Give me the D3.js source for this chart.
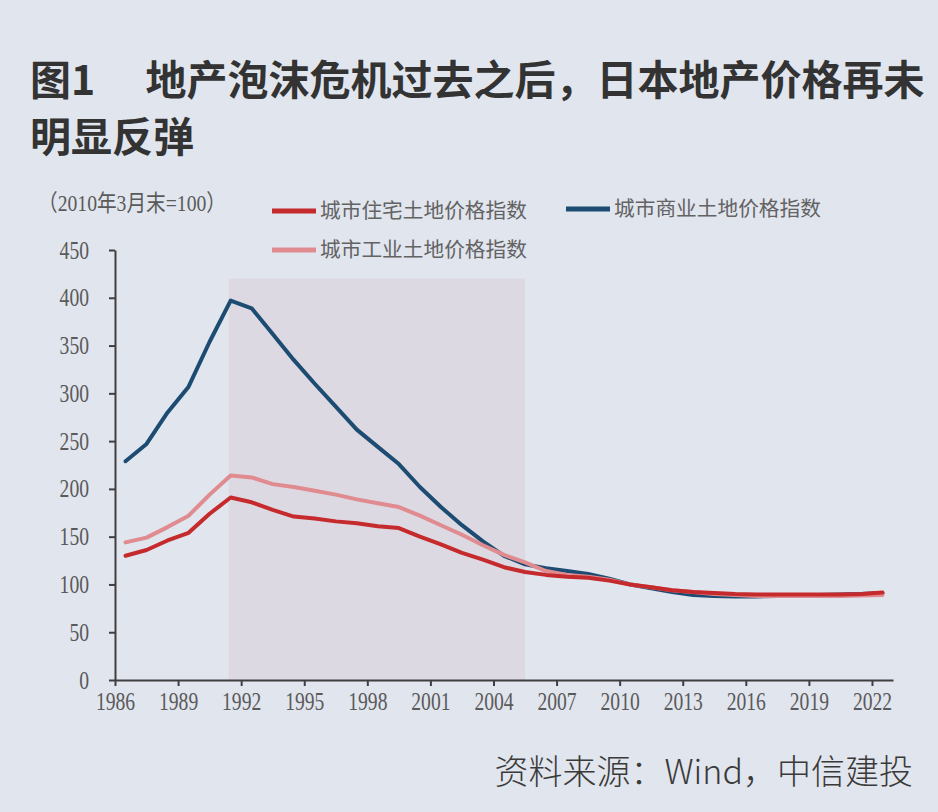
<!DOCTYPE html>
<html>
<head>
<meta charset="utf-8">
<script src="https://cdn.jsdelivr.net/npm/d3@7/dist/d3.min.js"></script>
<style>
  html, body { margin: 0; padding: 0; background: #e1e5ee; }
  svg { display: block; }
</style>
</head>
<body>
<svg id="chart" width="938" height="812"></svg>
<script>
// ---- data ----
const years = d3.range(1986, 2023);
const commercial = [229, 247, 280, 307, 354, 397, 389, 362, 335, 310, 286, 262, 244, 226, 202, 181, 162, 145, 130, 121,
  117, 114, 111, 106, 100, 96, 92, 89, 88, 87.5, 87.5, 88, 88.5, 89, 89.5, 90, 91];
const residential = [130, 136, 146, 154, 174, 191, 186, 178, 171, 169, 166, 164, 161, 159, 150, 142, 133, 126, 118, 113,
  110, 108, 107, 104, 100, 97, 94, 92, 91, 90, 89.5, 89.5, 89.5, 89.5, 89.5, 90, 91.5];
const industrial = [144, 149, 160, 172, 194, 214, 212, 205, 202, 198, 194, 189, 185, 181, 172, 162, 152, 141, 131, 123,
  114, 110, 108, 105, 100, 97, 94, 92, 90, 89, 88, 88, 88, 88, 88, 88.5, 89];
const xTickYears = d3.range(1986, 2023, 3);
const yTicks = [0, 50, 100, 150, 200, 250, 300, 350, 400, 450];
const shadePeriod = [1991.4, 2005.5];
const shadeTop = 420;
const seriesNames = ["城市住宅土地价格指数", "城市商业土地价格指数", "城市工业土地价格指数"];
const titleLines = ["图1　 地产泡沫危机过去之后，日本地产价格再未", "明显反弹"];
const unitLabel = "（2010年3月末=100）";
const sourceText = "资料来源：Wind，中信建投";

// ---- setup ----
const svg = d3.select("#chart");
const x = d3.scaleLinear().domain([1986, 2023]).range([115, 893]);
const y = d3.scaleLinear().domain([0, 450]).range([680, 250]);

const colors = { res: "#c52a2c", com: "#1d4c72", ind: "#e08b8f" };
const axisColor = "#3f3f3f";
const labelColor = "#5a5a5a";
const numFont = "'Liberation Serif', 'Noto Sans CJK SC', serif";
const cjkFont = "'Noto Sans CJK SC', sans-serif";

// title
svg.selectAll("text.title").data(titleLines).enter().append("text")
  .attr("class", "title")
  .attr("x", 30)
  .attr("y", (d, i) => 95 + i * 57)
  .attr("font-family", cjkFont)
  .attr("font-weight", "bold")
  .attr("font-size", 41)
  .attr("fill", "#333333")
  .text(d => d);

// shade
svg.append("rect")
  .attr("x", x(shadePeriod[0]))
  .attr("y", y(shadeTop))
  .attr("width", x(shadePeriod[1]) - x(shadePeriod[0]))
  .attr("height", y(0) - y(shadeTop))
  .attr("fill", "#ddd9e3");

// axes
const yAxis = d3.axisLeft(y).tickValues(yTicks).tickSize(6).tickSizeOuter(0).tickPadding(20);
const gy = svg.append("g").attr("transform", `translate(${x(1986)},0)`).call(yAxis);
const xAxis = d3.axisBottom(x).tickValues(xTickYears).tickFormat(d3.format("d")).tickSize(6).tickSizeOuter(0).tickPadding(6);
const gx = svg.append("g").attr("transform", `translate(0,${y(0)})`).call(xAxis);

[gx, gy].forEach(g => {
  g.select(".domain").attr("stroke", axisColor).attr("stroke-width", 2);
  g.selectAll(".tick line").attr("stroke", axisColor).attr("stroke-width", 2);
  g.selectAll(".tick text")
    .attr("font-family", numFont)
    .attr("font-size", 25)
    .attr("fill", labelColor)
    .attr("lengthAdjust", "spacingAndGlyphs")
    .attr("textLength", function () { return 9.8 * this.textContent.length; });
});

// lines
const line = d3.line().x((d, i) => x(years[i] + 0.5)).y(d => y(d));
const series = [
  { key: "com", values: commercial },
  { key: "ind", values: industrial },
  { key: "res", values: residential }
];
svg.selectAll("path.series").data(series).enter().append("path")
  .attr("class", "series")
  .attr("d", d => line(d.values))
  .attr("fill", "none")
  .attr("stroke", d => colors[d.key])
  .attr("stroke-width", 4)
  .attr("stroke-linejoin", "round")
  .attr("stroke-linecap", "round");

// unit label
svg.append("text")
  .attr("x", 38).attr("y", 211)
  .attr("font-family", numFont)
  .attr("font-size", 23)
  .attr("fill", labelColor)
  .attr("lengthAdjust", "spacingAndGlyphs")
  .attr("textLength", 188)
  .text(unitLabel);

// legend
const legendItems = [
  { name: seriesNames[0], key: "res", lx: 272, ly: 211 },
  { name: seriesNames[1], key: "com", lx: 566, ly: 209 },
  { name: seriesNames[2], key: "ind", lx: 272, ly: 250 }
];
const lg = svg.selectAll("g.legend").data(legendItems).enter().append("g")
  .attr("class", "legend")
  .attr("transform", d => `translate(${d.lx},${d.ly})`);
lg.append("line")
  .attr("x1", 0).attr("x2", 44).attr("y1", 0).attr("y2", 0)
  .attr("stroke", d => colors[d.key]).attr("stroke-width", 5);
lg.append("text")
  .attr("x", 48).attr("y", 0).attr("dy", "0.35em")
  .attr("font-family", cjkFont)
  .attr("font-size", 20.7)
  .attr("fill", "#636363")
  .text(d => d.name);

// source
svg.append("text")
  .attr("x", 913).attr("y", 784)
  .attr("text-anchor", "end")
  .attr("font-family", cjkFont)
  .attr("font-size", 34)
  .attr("font-weight", 300)
  .attr("fill", "#3a3a3a")
  .text(sourceText);
</script>
</body>
</html>
